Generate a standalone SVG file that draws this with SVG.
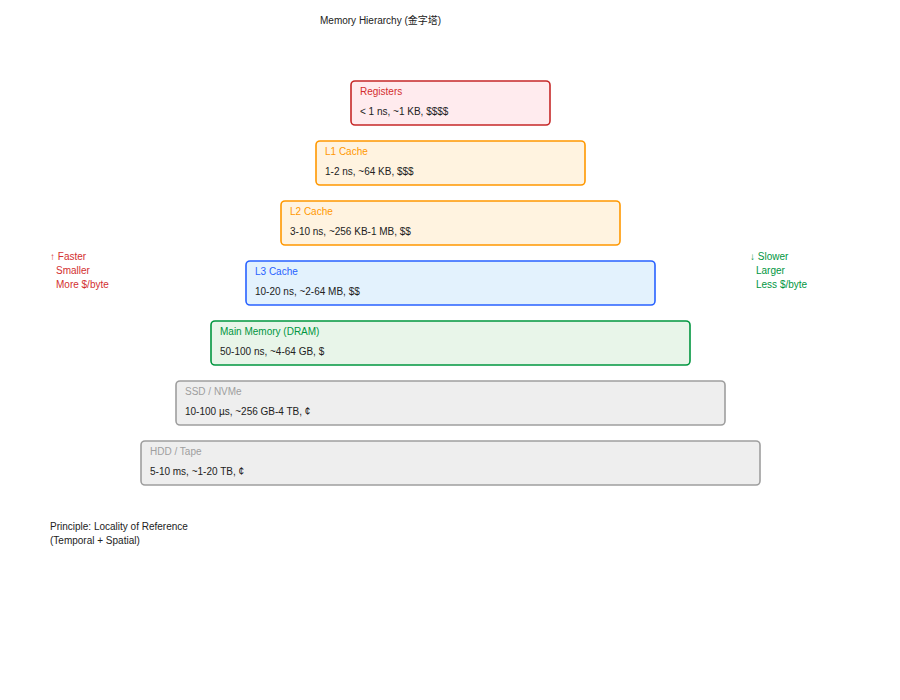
<svg xmlns="http://www.w3.org/2000/svg" width="900" height="700" viewBox="0 0 900 700">
<style>
text{font-family:"Liberation Sans","Noto Sans CJK SC",sans-serif;font-size:10px;fill:#222}
.box{stroke-width:1.6}
.red{fill:#d32f2f}.org{fill:#ff9800}.blu{fill:#2962ff}.grn{fill:#00963f}.gry{fill:#9e9e9e}
</style>
<rect width="900" height="700" fill="#fff"/>
<text x="320" y="24">Memory Hierarchy (金字塔)</text>
<g id="registers"><rect class="box" x="351" y="81" width="199" height="44" rx="4" fill="#ffebee" stroke="#c62828"/><text class="red" x="360" y="95">Registers</text><text x="360" y="115">&lt; 1 ns, ~1 KB, $$$$</text></g>
<g id="l1"><rect class="box" x="316" y="141" width="269" height="44" rx="4" fill="#fff3e0" stroke="#ff9800"/><text class="org" x="325" y="155">L1 Cache</text><text x="325" y="175">1-2 ns, ~64 KB, $$$</text></g>
<g id="l2"><rect class="box" x="281" y="201" width="339" height="44" rx="4" fill="#fff3e0" stroke="#ff9800"/><text class="org" x="290" y="215">L2 Cache</text><text x="290" y="235">3-10 ns, ~256 KB-1 MB, $$</text></g>
<g id="l3"><rect class="box" x="246" y="261" width="409" height="44" rx="4" fill="#e3f2fd" stroke="#2962ff"/><text class="blu" x="255" y="275">L3 Cache</text><text x="255" y="295">10-20 ns, ~2-64 MB, $$</text></g>
<g id="dram"><rect class="box" x="211" y="321" width="479" height="44" rx="4" fill="#e8f5e9" stroke="#00963f"/><text class="grn" x="220" y="335">Main Memory (DRAM)</text><text x="220" y="355">50-100 ns, ~4-64 GB, $</text></g>
<g id="ssd"><rect class="box" x="176" y="381" width="549" height="44" rx="4" fill="#eeeeee" stroke="#9e9e9e"/><text class="gry" x="185" y="395">SSD / NVMe</text><text x="185" y="415">10-100 µs, ~256 GB-4 TB, ¢</text></g>
<g id="hdd"><rect class="box" x="141" y="441" width="619" height="44" rx="4" fill="#eeeeee" stroke="#9e9e9e"/><text class="gry" x="150" y="455">HDD / Tape</text><text x="150" y="475">5-10 ms, ~1-20 TB, ¢</text></g>
<g id="connectors"></g>
<g id="left-note"><text class="red" x="50" y="260">↑ Faster</text><text class="red" x="56" y="274">Smaller</text><text class="red" x="56" y="288">More $/byte</text></g>
<g id="right-note"><text class="grn" x="750" y="260">↓ Slower</text><text class="grn" x="756" y="274">Larger</text><text class="grn" x="756" y="288">Less $/byte</text></g>
<g id="principle"><text x="50" y="530">Principle: Locality of Reference</text><text x="50" y="544">(Temporal + Spatial)</text></g>
</svg>
